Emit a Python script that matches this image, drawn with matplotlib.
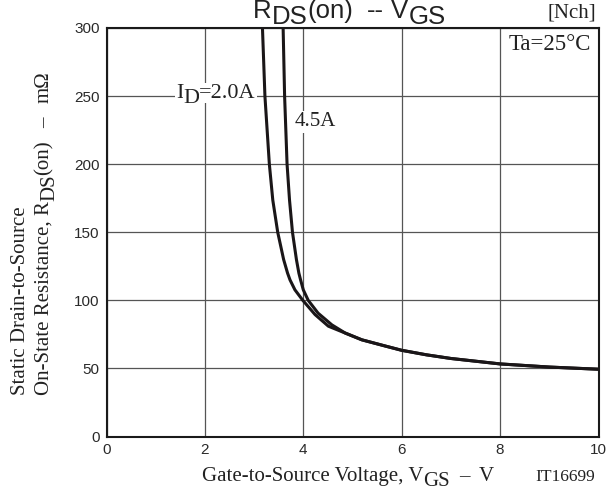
import numpy as np
import matplotlib
matplotlib.use("Agg")
import matplotlib.pyplot as plt
import matplotlib.transforms as mtransforms

# RDS(on) vs VGS (V, mOhm)
vgs_2a = [3.17, 3.22, 3.31, 3.38, 3.48, 3.60, 3.68, 3.73, 3.83, 3.99, 4.24, 4.51, 4.85,
          5.19, 5.66, 6.0, 6.5, 7.0, 8.0, 9.0, 10.0]
rds_2a = [300, 250, 200, 173.6, 150, 130, 120, 115, 107.7, 100, 89.5, 81, 76,
          71, 66.5, 63.3, 60, 57.3, 53.3, 51, 49.4]

vgs_45a = [3.59, 3.62, 3.67, 3.72, 3.78, 3.86, 3.91, 3.945, 4.00, 4.10, 4.30, 4.58, 4.85,
           5.19, 5.66, 6.0, 6.5, 7.0, 8.0, 9.0, 10.0]
rds_45a = [300, 250, 200, 173.6, 150, 130, 120, 115, 107.7, 100, 90.6, 82, 76,
           71, 66.5, 63.3, 60, 57.3, 53.3, 51, 49.4]

x_ticks = [0, 2, 4, 6, 8, 10]
y_ticks = [0, 50, 100, 150, 200, 250, 300]

SANS = "Liberation Sans"
SERIF = "Liberation Serif"
W, H = 609, 486


def rich_text(fig, x, y, pieces, transform, rotation=0, **kw):
    """draw text pieces one after another; each piece is (text, baseline shift px, gap px after)"""
    renderer = fig.canvas.get_renderer()
    ang = np.deg2rad(rotation)
    ux, uy = np.cos(ang), np.sin(ang)
    nx, ny = -np.sin(ang), np.cos(ang)
    adv = 0.0
    out = []
    for s, shift, gap in pieces:
        tr = mtransforms.offset_copy(transform, fig=fig,
                                     x=adv * ux + shift * nx,
                                     y=adv * uy + shift * ny, units="dots")
        t = fig.text(x, y, s, transform=tr, rotation=rotation, rotation_mode="anchor",
                     ha="left", va="baseline", **kw)
        bb = t.get_window_extent(renderer)
        adv += (bb.width if rotation == 0 else bb.height) + gap
        out.append(t)
    return out


fig = plt.figure(figsize=(W / 100, H / 100), dpi=100)
ax = fig.add_axes([106.5 / W, 1 - 436.5 / H, (598.5 - 106.5) / W, (436.5 - 28) / H])

ax.plot(vgs_2a, rds_2a, color="#1a1618", lw=2.2, solid_joinstyle="round", zorder=3)
ax.plot(vgs_45a, rds_45a, color="#1a1618", lw=2.2, solid_joinstyle="round", zorder=3)

ax.set_xlim(0, 10)
ax.set_ylim(0, 300)
ax.set_xticks(x_ticks)
ax.set_yticks(y_ticks)
ax.grid(True, color="#555555", lw=0.9)
ax.set_axisbelow(True)
ax.tick_params(length=0, pad=5, labelsize=11, labelcolor="#2a2a2a")
for lab in ax.get_xticklabels() + ax.get_yticklabels():
    lab.set_fontfamily(SANS)
for sp in ax.spines.values():
    sp.set_linewidth(1.5)
    sp.set_color("#1a1a1a")

px = mtransforms.IdentityTransform()
white = dict(facecolor="white", edgecolor="none", pad=0.5)

# curve labels
rich_text(fig, 176, H - 97.5, [("I", 0, 0), ("D", -5.5, 0), ("=2.0A", 0, 0)], px,
          family=SERIF, fontsize=16, color="#222", bbox=white, zorder=4)
ax.text(4.24, 231, "4.5A", family=SERIF, fontsize=15, color="#222", ha="center", va="center",
        bbox=dict(facecolor="white", edgecolor="none", pad=1), zorder=4)
ax.text(0.985, 0.985, "Ta=25°C", transform=ax.transAxes, family=SERIF, fontsize=16.5,
        color="#222", ha="right", va="top", bbox=white, zorder=4)

# title
rich_text(fig, 253, H - 17.5, [("R", 0, 0), ("DS", -6.5, 0), ("(on)", 0, 14), ("--", 0, 7),
                               ("V", 0, 0), ("GS", -6.5, 0)], px,
          family=SANS, fontsize=18.5, color="#222")
fig.text(596, H - 17.3, "[Nch]", transform=px, family=SERIF, fontsize=15, color="#222",
         ha="right", va="baseline")

# axis labels
rich_text(fig, 202, H - 481, [("Gate-to-Source Voltage, V", 0, 0), ("GS", -4.5, 9), ("–", 0, 9),
                              ("V", 0, 0)], px, family=SERIF, fontsize=15, color="#222")
fig.text(595, H - 481, "IT16699", transform=px, family=SERIF, fontsize=12.5, color="#222",
         ha="right", va="baseline")

rich_text(fig, 25, H - 395, [("Static Drain-to-Source", 0, 0)], px, rotation=90,
          family=SERIF, fontsize=15, color="#222")
rich_text(fig, 49, H - 395, [("On-State Resistance, R", 0, 0), ("DS", -5, 0), ("(on)", 0, 12),
                             ("–", 0, 14), ("mΩ", 0, 0)], px, rotation=90,
          family=SERIF, fontsize=15, color="#222")

fig.savefig("out.png", dpi=100)
